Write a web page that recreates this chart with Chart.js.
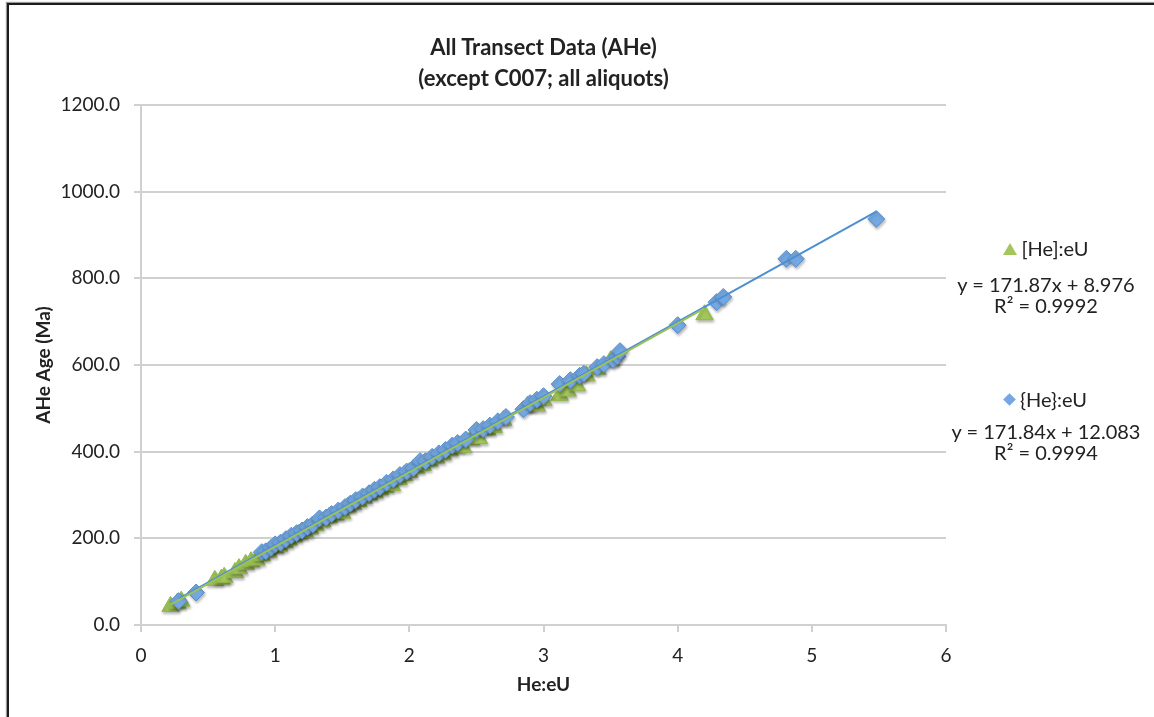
<!DOCTYPE html>
<html>
<head>
<meta charset="utf-8">
<script src="https://cdn.jsdelivr.net/npm/chart.js@4.4.1/dist/chart.umd.min.js"></script>
<style>
  html, body { margin: 0; padding: 0; background: #fff; }
  body { width: 1154px; height: 717px; position: relative; overflow: hidden; font-family: Lato, "Open Sans", sans-serif; color: #222; }
  #frame { position: absolute; left: 7px; top: 3px; width: 1180px; height: 760px; border: 2px solid #1c1c1c; box-shadow: -1px -1px 1px #999; }
  #wrap { position: absolute; left: 0; top: 0; width: 1154px; height: 717px; }
  .title { position: absolute; left: 141px; width: 805px; text-align: center; font-weight: bold; font-size: 22px; }
  #legend { position: absolute; left: 940px; width: 212px; text-align: center; font-size: 20px; line-height: 21px; }
  .entry { position: absolute; left: 0; width: 100%; }
  .tri { display: inline-block; width: 0; height: 0; border-left: 7px solid transparent; border-right: 7px solid transparent; border-bottom: 12px solid #a3c75a; margin-right: 4px; vertical-align: 1px; }
  .dia { display: inline-block; width: 9px; height: 9px; background: #75a8e0; transform: rotate(45deg); margin-right: 6px; vertical-align: 3px; }
</style>
</head>
<body>
<div id="frame"></div>
<div id="wrap"><canvas id="chart" width="1154" height="717"></canvas></div>
<div class="title" style="top:33px">All Transect Data (AHe)</div>
<div class="title" style="top:64px">(except C007; all aliquots)</div>
<div id="legend">
  <div class="entry" style="top:238px"><span class="tri"></span>[He]:eU</div>
  <div class="entry" style="top:274px" id="eqGreen"></div>
  <div class="entry" style="top:295px" id="r2Green"></div>
  <div class="entry" style="top:389px"><span class="dia"></span>{He}:eU</div>
  <div class="entry" style="top:421px" id="eqBlue"></div>
  <div class="entry" style="top:442px" id="r2Blue"></div>
</div>
<script>
document.addEventListener('DOMContentLoaded', function() {

    // [He]:eU ratios and ages (green triangles)
    const heBracketX = [0.22, 0.27, 0.30, 0.55, 0.60, 0.62, 0.70, 0.73, 0.78, 0.82, 0.86, 0.90, 0.95, 1.00, 1.03,
        1.07, 1.10, 1.14, 1.18, 1.22, 1.26, 1.30, 1.35, 1.40, 1.45, 1.50, 1.54, 1.58, 1.62, 1.66,
        1.70, 1.74, 1.78, 1.82, 1.87, 1.92, 1.96, 2.00, 2.05, 2.10, 2.15, 2.20, 2.25, 2.30, 2.35,
        2.40, 2.46, 2.52, 2.58, 2.63, 2.70, 2.88, 2.95, 3.00, 3.12, 3.18, 3.25, 3.32, 3.40, 3.50, 4.20];
    const heBracketAge = [43, 50, 55, 103, 106, 110, 121, 130, 140, 146, 150, 160, 168, 178, 182,
        190, 196, 203, 210, 214, 222, 230, 238, 248, 254, 258, 272, 278, 285, 292,
        300, 305, 312, 318, 322, 336, 345, 352, 362, 368, 378, 385, 393, 402, 410,
        410, 428, 430, 450, 456, 472, 505, 505, 518, 530, 540, 552, 575, 590, 610, 716];

    // {He}:eU ratios and ages (blue diamonds)
    const heBraceX = [0.28, 0.41, 0.90, 0.93, 0.97, 1.00, 1.04, 1.08, 1.12, 1.16, 1.20, 1.24, 1.28, 1.33, 1.38,
        1.42, 1.47, 1.52, 1.56, 1.60, 1.65, 1.70, 1.74, 1.78, 1.83, 1.88, 1.93, 1.98, 2.03, 2.08,
        2.12, 2.17, 2.22, 2.27, 2.32, 2.36, 2.42, 2.50, 2.55, 2.60, 2.66, 2.72, 2.85, 2.90, 2.95,
        3.00, 3.12, 3.20, 3.27, 3.30, 3.40, 3.45, 3.52, 3.55, 3.57, 4.00, 4.29, 4.34, 4.81, 4.88, 5.48];
    const heBraceAge = [55, 75, 168, 170, 178, 186, 190, 198, 206, 212, 218, 226, 232, 246, 248,
        256, 264, 272, 280, 288, 296, 304, 312, 318, 328, 336, 346, 354, 362, 378,
        378, 388, 396, 404, 414, 420, 428, 450, 452, 460, 470, 480, 498, 512, 520,
        528, 556, 565, 575, 580, 595, 602, 612, 620, 632, 692, 745, 757, 845, 845, 937];

    // linear fits as reported
    const fitGreen = { slope: 171.87, intercept: 8.976, r2: '0.9992' };
    const fitBlue = { slope: 171.84, intercept: 12.083, r2: '0.9994' };

    const xTicks = [0, 1, 2, 3, 4, 5, 6];
    const yTicks = [0, 200, 400, 600, 800, 1000, 1200];

    document.getElementById('eqGreen').textContent = `y = ${fitGreen.slope}x + ${fitGreen.intercept}`;
    document.getElementById('r2Green').textContent = `R² = ${fitGreen.r2}`;
    document.getElementById('eqBlue').textContent = `y = ${fitBlue.slope}x + ${fitBlue.intercept}`;
    document.getElementById('r2Blue').textContent = `R² = ${fitBlue.r2}`;

    function toPoints(xs, ys) {
        return xs.map((x, i) => ({ x: x, y: ys[i] }));
    }

    function fitLine(fit, xs) {
        const lo = Math.min(...xs);
        const hi = Math.max(...xs);
        return [lo, hi].map(x => ({ x: x, y: fit.slope * x + fit.intercept }));
    }

    // soft drop shadow under the markers only
    const markerShadow = {
        id: 'markerShadow',
        beforeDatasetDraw(chart, args) {
            if (chart.data.datasets[args.index].showLine) return;
            const ctx = chart.ctx;
            ctx.save();
            ctx.shadowColor = 'rgba(0,0,0,0.28)';
            ctx.shadowBlur = 3;
            ctx.shadowOffsetX = 1;
            ctx.shadowOffsetY = 2;
        },
        afterDatasetDraw(chart, args) {
            if (chart.data.datasets[args.index].showLine) return;
            chart.ctx.restore();
        }
    };

    const gridColor = '#d0d0d0';
    const tickFont = { family: 'Lato', size: 19 };
    const axisTitleFont = { family: 'Lato', size: 19, weight: 'bold' };

    const ctx = document.getElementById('chart').getContext('2d');
    new Chart(ctx, {
        type: 'scatter',
        data: {
            datasets: [
                {
                    label: '[He]:eU fit',
                    data: fitLine(fitGreen, heBracketX),
                    showLine: true,
                    borderColor: '#9cc159',
                    borderWidth: 2,
                    pointRadius: 0
                },
                {
                    label: '{He}:eU fit',
                    data: fitLine(fitBlue, heBraceX),
                    showLine: true,
                    borderColor: '#4d8fd3',
                    borderWidth: 2,
                    pointRadius: 0
                },
                {
                    label: '{He}:eU',
                    data: toPoints(heBraceX, heBraceAge),
                    pointStyle: 'rectRot',
                    pointRadius: 8.5,
                    backgroundColor: '#75a8e0',
                    borderColor: '#5a8fcc',
                    borderWidth: 1
                },
                {
                    label: '[He]:eU',
                    data: toPoints(heBracketX, heBracketAge),
                    pointStyle: 'triangle',
                    pointRadius: 10,
                    backgroundColor: '#a3c75a',
                    borderColor: '#92b84c',
                    borderWidth: 1
                }
            ]
        },
        options: {
            responsive: false,
            animation: false,
            events: [],
            layout: { padding: { left: 30, right: 208, top: 105, bottom: 19 } },
            plugins: {
                legend: { display: false },
                tooltip: { enabled: false }
            },
            scales: {
                x: {
                    type: 'linear',
                    min: 0,
                    max: 6,
                    afterFit: s => { s.height = 73; },
                    afterBuildTicks: s => { s.ticks = xTicks.map(v => ({ value: v })); },
                    grid: { drawOnChartArea: false, color: gridColor, lineWidth: 2, tickLength: 7 },
                    border: { color: gridColor, width: 2 },
                    ticks: { font: tickFont, color: '#222', padding: 12, callback: v => String(v) },
                    title: { display: true, text: 'He:eU', color: '#222', font: axisTitleFont, padding: { top: 0, bottom: 2 } }
                },
                y: {
                    type: 'linear',
                    min: 0,
                    max: 1200,
                    afterFit: s => { s.width = 111; },
                    afterBuildTicks: s => { s.ticks = yTicks.map(v => ({ value: v })); },
                    grid: { color: gridColor, lineWidth: 2, tickLength: 7 },
                    border: { color: gridColor, width: 2 },
                    ticks: { font: tickFont, color: '#222', padding: 14, callback: v => v.toFixed(1) },
                    title: { display: true, text: 'AHe Age (Ma)', color: '#222', font: axisTitleFont, padding: { top: 2, bottom: 0 } }
                }
            }
        },
        plugins: [markerShadow]
    });
});
</script>
</body>
</html>
